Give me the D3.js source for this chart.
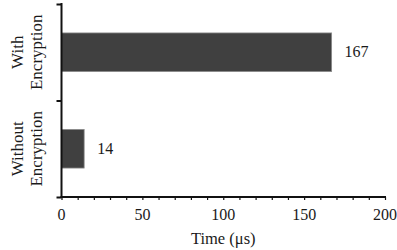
<!DOCTYPE html>
<html lang="en">
<head>
    <meta charset="utf-8">
    <title>Encryption time</title>
    <script src="https://d3js.org/d3.v7.min.js"></script>
    <style>
        body { margin: 0; background: white; }
        text { font-family: "Liberation Serif", "DejaVu Serif", serif; fill: #1a1a1a; }
    </style>
</head>
<body>
    <div id="chart"></div>
    <script>
        // chart data
        const categories = [["With", "Encryption"], ["Without", "Encryption"]];
        const times = [167, 14];
        const xTicks = [0, 50, 100, 150, 200];
        const xTitle = "Time (\u03bcs)";

        const width = 397, height = 250;
        const mLeft = 61.5, mRight = 385, mTop = 4, mBottom = 197;

        const svg = d3.select("#chart").append("svg")
            .attr("width", width)
            .attr("height", height);

        const x = d3.scaleLinear().domain([0, 200]).range([mLeft, mRight]);
        const y = d3.scaleBand()
            .domain(d3.range(categories.length))
            .range([mTop, mBottom])
            .paddingInner(0.6)
            .paddingOuter(0.3);

        // bars
        svg.selectAll("rect.bar")
            .data(times)
            .enter()
            .append("rect")
            .attr("class", "bar")
            .attr("x", x(0))
            .attr("y", (d, i) => y(i))
            .attr("width", d => x(d) - x(0))
            .attr("height", y.bandwidth())
            .attr("fill", "#404040")
            .attr("stroke", "#8a8a8a")
            .attr("stroke-width", 0.8);

        // value labels
        svg.selectAll("text.val")
            .data(times)
            .enter()
            .append("text")
            .attr("class", "val")
            .attr("x", d => x(d) + 13)
            .attr("y", (d, i) => y(i) + y.bandwidth() / 2 + 5)
            .style("font-size", "16px")
            .text(d => d);

        // x axis: minor ticks every 10, labels every 50
        const xAxisG = svg.append("g").attr("transform", "translate(0," + mBottom + ")");
        xAxisG.call(d3.axisBottom(x).tickValues(d3.range(0, 201, 10)).tickSize(3).tickFormat(""));
        xAxisG.select(".domain").remove();
        xAxisG.selectAll("line").attr("stroke", "#111").attr("stroke-width", 1.2);
        svg.append("g").selectAll("text")
            .data(xTicks)
            .enter()
            .append("text")
            .attr("x", d => x(d))
            .attr("y", 220)
            .attr("text-anchor", "middle")
            .style("font-size", "16px")
            .text(d => d);
        svg.append("line")
            .attr("x1", x(0) - 1).attr("x2", mRight + 1)
            .attr("y1", mBottom).attr("y2", mBottom)
            .attr("stroke", "#111").attr("stroke-width", 2);

        // y axis with ticks at band boundaries
        const yb = d3.scaleLinear().domain([0, categories.length]).range([mTop, mBottom]);
        const yAxisG = svg.append("g").attr("transform", "translate(" + mLeft + ",0)");
        yAxisG.call(d3.axisLeft(yb).tickValues(d3.range(0, categories.length + 1)).tickSize(5).tickFormat(""));
        yAxisG.select(".domain").remove();
        yAxisG.selectAll("line").attr("stroke", "#111").attr("stroke-width", 2);
        svg.append("line")
            .attr("x1", mLeft).attr("x2", mLeft)
            .attr("y1", mTop - 1).attr("y2", mBottom + 1)
            .attr("stroke", "#111").attr("stroke-width", 2);

        // rotated category labels
        categories.forEach((lines, i) => {
            const cy = y(i) + y.bandwidth() / 2;
            lines.forEach((t, j) => {
                svg.append("text")
                    .attr("transform", "translate(" + (23 + j * 19) + "," + cy + ") rotate(-90)")
                    .attr("text-anchor", "middle")
                    .style("font-size", "17px")
                    .text(t);
            });
        });

        // x axis title
        svg.append("text")
            .attr("x", (mLeft + mRight) / 2)
            .attr("y", 244)
            .attr("text-anchor", "middle")
            .style("font-size", "16.5px")
            .text(xTitle);
    </script>
</body>
</html>
